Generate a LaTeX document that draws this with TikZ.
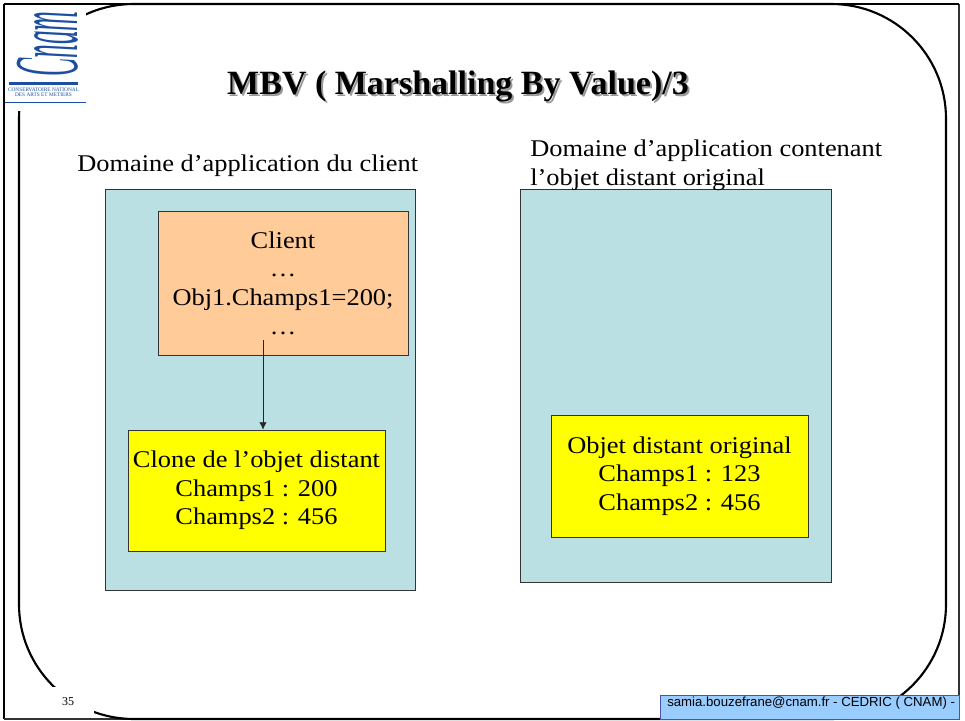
\documentclass[tikz,border=0pt]{standalone}
\usepackage{fontspec}
\usetikzlibrary{arrows.meta}
\setmainfont{Liberation Serif}
\newfontfamily\bodyfont[FakeStretch=1.1]{Liberation Serif}
\newfontfamily\footfont{Liberation Sans}
\definecolor{domainfill}{HTML}{BBE0E3}
\definecolor{clientfill}{HTML}{FFCC99}
\definecolor{boxyellow}{HTML}{FFFF00}
\definecolor{footfill}{HTML}{99CCFF}
\definecolor{footline}{HTML}{5050A8}
\definecolor{logoblue}{HTML}{1C4FA0}
\tikzset{
  domainbox/.style={draw=black!80, line width=0.5pt, fill=domainfill, anchor=north west, inner sep=0pt},
  codebox/.style={draw=black!80, line width=0.5pt, anchor=center, align=center, inner sep=0pt,
    font=\bodyfont\fontsize{18}{21.5}\selectfont},
  domainlabel/.style={anchor=west, align=left, inner sep=0pt, font=\bodyfont\fontsize{18}{21.5}\selectfont},
}
\begin{document}
\begin{tikzpicture}[x=0.75pt, y=-0.75pt]
      \useasboundingbox (0,0) rectangle (965,721);
      \fill[white] (0,0) rectangle (965,721);
      \draw[line width=1.6pt] (4,4) -- (4,719);
      \draw[black!80, line width=1pt] (959,4) -- (959,719) -- (4,719);
      \draw[line width=1.6pt, rounded corners=86pt] (19,4) rectangle (946,719);
      \draw[line width=1.6pt] (4,4) -- (959,4);
      % masks over the inner frame
      \fill[white] (6,6) rectangle (86,111);
      \fill[white] (46,687) rectangle (94,717.5);
      % logo
      \node[anchor=base, rotate=90, xscale=0.54, yscale=1.8, text=logoblue, inner sep=0pt,
        font=\itshape\fontsize{38}{38}\selectfont] (logoname) at (77,44) {Cnam};
      \fill[logoblue] (9,82) rectangle (78,85);
      \node[anchor=center, text=logoblue, inner sep=0pt, font=\fontsize{4}{4}\selectfont] (logotop) at (43.5,89.5) {CONSERVATOIRE NATIONAL};
      \node[anchor=center, text=logoblue, inner sep=0pt, font=\fontsize{4}{4}\selectfont] (logobottom) at (43.5,94.5) {DES ARTS ET METIERS};
      \fill[logoblue] (5,101.5) rectangle (86,103);
      % title
      \node[anchor=center, text=black!40, inner sep=0pt, font=\bfseries\fontsize{25.5}{28}\selectfont] (titleshadow) at (460,88) {MBV ( Marshalling By Value)/3};
      \node[anchor=center, inner sep=0pt, font=\bfseries\fontsize{25.5}{28}\selectfont] (title) at (458,86) {MBV ( Marshalling By Value)/3};
      % domains
      \node[domainbox, minimum width=232.5pt, minimum height=300.75pt] (clientdomain) at (105,189) {};
      \node[domainbox, minimum width=233.25pt, minimum height=294.75pt] (remotedomain) at (520,189) {};
      \node[domainlabel] (clientlabel) at (77,166) {Domaine d’application du client};
      \node[domainlabel] (remotelabel) at (530,165) {Domaine d’application contenant\\l’objet distant original};
      % boxes
      \node[codebox, fill=clientfill, minimum width=187.5pt, minimum height=108pt] (client) at (283,283) {Client\\…\\Obj1.Champs1=200;\\…};
      \node[codebox, fill=boxyellow, minimum width=192.75pt, minimum height=90.75pt] (clone) at (256.5,490.5) {\raisebox{-2pt}{Clone de l’objet distant}\\\raisebox{-2pt}{Champs1 : 200}\\\raisebox{-2pt}{Champs2 : 456}};
      \node[codebox, fill=boxyellow, minimum width=192.75pt, minimum height=91.5pt] (original) at (679.5,476) {\raisebox{-2pt}{Objet distant original}\\\raisebox{-2pt}{Champs1 : 123}\\\raisebox{-2pt}{Champs2 : 456}};
      \coordinate (callstart) at (263,340);
      \draw[-{Latex[length=5.5pt,width=5.5pt]}, black!85, line width=0.6pt] (callstart) -- (callstart |- clone.north);
      % footer
      \node[anchor=center, inner sep=0pt, font=\fontsize{9}{10}\selectfont] (pagenumber) at (68,702) {35};
      \node[draw=footline, line width=0.7pt, fill=footfill, anchor=north west, minimum width=224.25pt, minimum height=18pt, inner sep=0pt] (footer) at (660,695) {};
      \node[anchor=west, inner sep=0pt, font=\footfont\fontsize{9.9}{11}\selectfont] (footertext) at (667,703.5) {samia.bouzefrane@cnam.fr - CEDRIC ( CNAM) -};
    \end{tikzpicture}
\end{document}
